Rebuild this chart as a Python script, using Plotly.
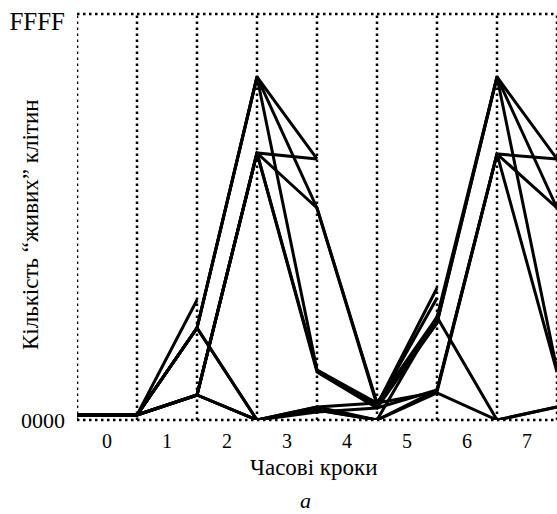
import plotly.graph_objects as go

# time positions (cell boundaries) where the series are sampled
steps = [-0.5, 0.5, 1.5, 2.5, 3.5, 4.5, 5.5, 6.5, 7.5]
categories = [0, 1, 2, 3, 4, 5, 6, 7]
ytick_vals = [0, 65535]
ytick_text = ["0000", "<span style='font-size:25px'>FFFF</span>"]

# number of live cells (0..65535) per series
s1 = [823, 823, 19759, None, None, None, None, None, None]
s2 = [823, 823, 15149, 56478, 42976, None, None, None, None]
s3 = [823, 823, 15149, 56478, 34908, 2799, 16960, 56478, 42976]
s4 = [823, 823, 15149, 56478, 8233, 2799, 15972, 56478, 34908]
s5 = [823, 823, 15149, 0, 2141, 0, 16960, 0, 2141]
s6 = [823, 823, 4117, 43964, 42976, None, None, None, None]
s7 = [823, 823, 4117, 43964, 34908, 2470, 21735, None, None]
s8 = [823, 823, 4117, 43964, 8233, 2470, 20089, None, None]
s9 = [823, 823, 4117, 43964, 7904, 1976, 15972, 56478, 8233]
s10 = [823, 823, 4117, 0, 1647, 0, 4446, 0, 2141]
s11 = [823, 823, 15149, 0, 1317, 1976, 4940, 43800, 42976]
s12 = [823, 823, 4117, 0, 2141, 2799, 4611, 43800, 34908]
s13 = [823, 823, 4117, 0, 1647, 0, 4940, 43800, 7904]
series = [s1, s2, s3, s4, s5, s6, s7, s8, s9, s10, s11, s12, s13]

FONT = "Liberation Serif"
fig = go.Figure()
for s in series:
    fig.add_trace(go.Scatter(x=steps, y=s, mode="lines",
                             line=dict(color="black", width=3),
                             connectgaps=False, showlegend=False,
                             hoverinfo="skip"))

shapes = []
dot = dict(color="black", width=2.5, dash="2.5px,3.5px")
for b in steps:
    shapes.append(dict(type="line", xref="x", yref="paper", x0=b, x1=b,
                       y0=0, y1=1, line=dot, layer="below"))
for yy in (0, 1):
    shapes.append(dict(type="line", xref="paper", yref="paper", x0=0, x1=1,
                       y0=yy, y1=yy, line=dot, layer="below"))

fig.update_layout(
    width=557, height=514,
    margin=dict(l=77, r=0, t=14, b=94),
    paper_bgcolor="white", plot_bgcolor="white",
    font=dict(family=FONT, color="black"),
    shapes=shapes,
    xaxis=dict(range=[-0.5, 7.5], tickvals=categories,
               ticktext=[str(c) for c in categories],
               showgrid=False, zeroline=False, showline=False,
               tickfont=dict(size=20, family=FONT),
               ticklabelstandoff=7),
    yaxis=dict(range=[0, 65535 * 1.02], tickvals=ytick_vals,
               ticktext=ytick_text, showgrid=False, zeroline=False,
               showline=False, tickfont=dict(size=22, family=FONT),
               ticklabelstandoff=11),
    annotations=[
        dict(text="Часові кроки", xref="paper", yref="paper",
             x=(314 - 77) / 480, y=-47 / 406, showarrow=False,
             font=dict(size=23, family=FONT), xanchor="center", yanchor="middle"),
        dict(text="Кількість “живих” клітин", xref="paper", yref="paper",
             x=-47 / 480, y=(420 - 225) / 406, textangle=-90, showarrow=False,
             font=dict(size=23, family=FONT), xanchor="center", yanchor="middle"),
        dict(text="<i>a</i>", xref="paper", yref="paper",
             x=(305 - 77) / 480, y=-80 / 406, showarrow=False,
             font=dict(size=22, family=FONT), xanchor="center", yanchor="middle"),
    ],
)
fig.write_html("out.html")
